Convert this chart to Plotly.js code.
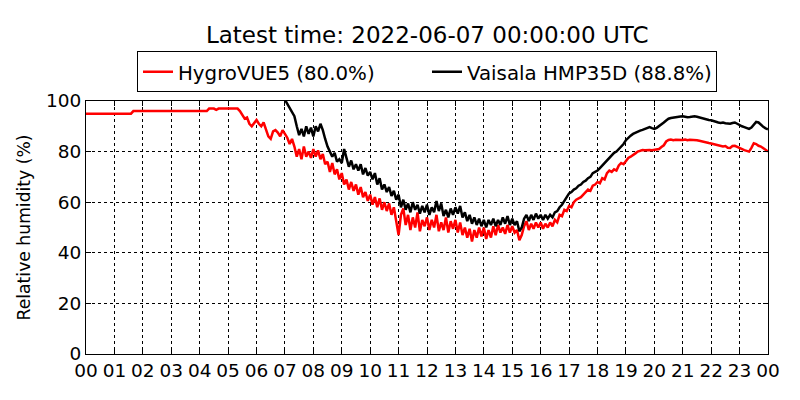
<!DOCTYPE html>
<html>
<head>
<meta charset="utf-8">
<script src="https://cdn.plot.ly/plotly-3.0.1.min.js"></script>
<style>
  html, body { margin: 0; padding: 0; background: #fff; }
  #graph { width: 800px; height: 400px; }
</style>
</head>
<body>
<div id="graph"></div>
<script>
// Данные: отсчёты каждые 5 минут, 2022-06-06 00:00 ... 2022-06-07 00:00
const GRAPH_ELEM_ID = "graph";
const DAY_START = "2022-06-06";
const DAY_END = "2022-06-07";
const STEP_MIN = 5;

// HygroVUE5, % (по часу на строку)
const hygroVue5 = [
  95, 95, 95, 95, 95, 95, 95, 95, 95, 95, 95, 95,
  95, 95, 95, 95, 95, 95, 95, 95, 96, 96, 96, 96,
  96, 96, 96, 96, 96, 96, 96, 96, 96, 96, 96, 96,
  96, 96, 96, 96, 96, 96, 96, 96, 96, 96, 96, 96,
  96, 96, 96, 96, 97, 97, 97, 96.5, 97, 97, 97, 97,
  97, 97, 97, 97, 97, 96, 94.5, 93, 93.5, 91, 90, 91.5,
  92.5, 91, 90, 91.5, 89, 86, 85, 88, 88.5, 87.5, 86, 88.5,
  87, 85.5, 83, 85, 82, 78, 81, 77, 82, 78, 80, 77.5,
  81, 78, 80.5, 77, 79, 75, 76, 72, 75.5, 71, 73, 69,
  71.5, 67, 69, 65, 68, 64.5, 67, 63, 66, 62, 64, 60.5,
  63, 59, 62, 58, 61.5, 57, 60, 56.5, 59.5, 55, 58, 53,
  47, 55, 57.5, 51, 55, 49, 54, 50, 56, 48.5, 53, 50.5,
  54, 49, 53, 50, 55, 48.5, 52, 49, 54, 48, 52.5, 49.5,
  53, 48, 52, 47, 50, 46, 49.5, 44.5, 49, 46, 50, 46.5,
  50, 45.5, 49, 46, 50.5, 47, 51, 48, 50, 47.5, 51, 48,
  50.5, 48, 49, 45, 47, 50.5, 52.5, 49, 51.5, 49.5, 52, 50,
  52, 49.5, 51.5, 50, 52, 50.5, 53, 52, 55, 54.5, 57, 56.5,
  58.5, 58, 60, 61, 61.5, 62, 63, 64, 65, 64.5, 66.5, 67,
  68, 67.5, 69.5, 69, 71.5, 72.5, 72, 73, 72.5, 74.5, 75.5, 75,
  76.5, 77.5, 78, 78.5, 79.3, 80, 80.3, 80.6, 80.5, 80.7, 80.6, 80.5,
  80.6, 80.8, 81, 81.8, 82.5, 84, 84.6, 84.8, 84.5, 84.7, 84.6, 84.5,
  84.6, 84.8, 84.5, 84.7, 84.6, 84.8, 84.5, 84.3, 84, 83.8, 83.5, 83.4,
  83.2, 82.9, 82.7, 82.5, 82.3, 82, 82.2, 81.5, 81.4, 82.2, 82.3, 81.8,
  81.5, 81, 80.6, 80.3, 80, 81.5, 83.3, 83, 82.3, 82, 81.3, 80.6,
  80
];

// Vaisala HMP35D, % (до 07:00 нет данных)
const vaisalaHmp35d = [
  null, null, null, null, null, null, null, null, null, null, null, null,
  null, null, null, null, null, null, null, null, null, null, null, null,
  null, null, null, null, null, null, null, null, null, null, null, null,
  null, null, null, null, null, null, null, null, null, null, null, null,
  null, null, null, null, null, null, null, null, null, null, null, null,
  null, null, null, null, null, null, null, null, null, null, null, null,
  null, null, null, null, null, null, null, null, null, null, null, null,
  100.5, 99, 97.5, 96, 94, 90, 86.5, 89, 86, 90, 87, 89.5,
  86, 90, 88, 91, 88.5, 85, 82, 80, 78, 79.5, 76, 77,
  75.5, 81, 77, 74, 76.5, 73, 75, 72.5, 75, 71, 73.5, 70.5,
  72, 69, 71.5, 67, 69.5, 65, 67, 64, 66, 62.5, 64.5, 61,
  63, 58, 61, 57, 59.5, 56, 60, 57, 59, 55.5, 58.5, 56,
  59, 55, 58, 56, 60.5, 56.5, 59.5, 54.5, 57, 54, 57.5, 55,
  58, 55.5, 58.5, 54, 56, 52.5, 55, 51.5, 54, 51, 53.5, 50.5,
  53, 50, 53, 51, 53.5, 50.5, 53, 51, 54, 51.5, 54.5, 51,
  53.5, 51, 52.5, 48.5, 50, 53.5, 55, 52.5, 55, 53, 55.5, 53.5,
  55, 53, 55, 53.5, 55, 54, 56, 56.5, 58, 59, 60.5, 62,
  63.5, 64, 65, 65.5, 66.5, 67, 68, 68.5, 69.5, 70, 71.5, 72,
  72.5, 73.5, 74.5, 75.5, 76.5, 77.5, 78.5, 79.5, 80, 81, 82, 83,
  84.5, 85.5, 86.3, 87, 87.5, 88, 88.3, 88.6, 89, 89.4, 89.7, 89.3,
  89, 89.4, 90, 90.8, 91.5, 92.3, 93, 93.3, 93.5, 93.6, 93.8, 93.9,
  94, 93.8, 93.6, 93.7, 93.9, 94, 93.8, 93.5, 93.3, 93, 92.8, 92.5,
  92.4, 92, 91.8, 91.5, 91.3, 91.5, 91.2, 91, 91, 91.3, 91.5, 91,
  90.4, 90, 89.7, 89.3, 89, 89.5, 90.5, 91.7, 91.5, 90.5, 89.8, 89.2,
  88.8
];

const seriesNames = ["HygroVUE5 (80.0%)", "Vaisala HMP35D (88.8%)"];
const seriesColors = ["#ff0000", "#000000"];
const titleText = "Latest time: 2022-06-07 00:00:00 UTC";
const yTickValues = [0, 20, 40, 60, 80, 100];

// Метки времени для оси X
function pad(n) {
  return n < 10 ? "0" + n : "" + n;
}

const times = hygroVue5.map((_, i) => {
  const minutes = i * STEP_MIN;
  if (minutes >= 24 * 60) return DAY_END + " 00:00";
  return DAY_START + " " + pad(Math.floor(minutes / 60)) + ":" + pad(minutes % 60);
});

const font = "DejaVu Sans, sans-serif";

const traces = [hygroVue5, vaisalaHmp35d].map((values, idx) => ({
  x: times,
  y: values,
  type: "scatter",
  mode: "lines",
  name: seriesNames[idx],
  line: { color: seriesColors[idx], width: 2.5 },
  connectgaps: false,
}));

const axisCommon = {
  showline: true,
  linecolor: "#000",
  linewidth: 1,
  mirror: "ticks",
  ticks: "inside",
  ticklen: 5,
  tickcolor: "#000",
  showgrid: true,
  gridcolor: "#000",
  griddash: "dot",
  gridwidth: 1,
  zeroline: false,
  tickfont: { family: font, size: 18.5, color: "#000" },
};

const layout = {
  width: 800,
  height: 400,
  margin: { l: 86, r: 32, t: 101, b: 46 },
  paper_bgcolor: "#fff",
  plot_bgcolor: "#fff",
  font: { family: font, color: "#000" },
  title: {
    text: titleText,
    font: { family: font, size: 23, color: "#000" },
    x: 0.534,
    xanchor: "center",
    y: 0.912,
    yanchor: "middle",
  },
  showlegend: true,
  legend: {
    orientation: "h",
    x: 0.5,
    xanchor: "center",
    y: 1.115,
    yanchor: "middle",
    bordercolor: "#000",
    borderwidth: 1,
    bgcolor: "#fff",
    entrywidth: 244,
    font: { family: font, size: 19.8, color: "#000" },
  },
  xaxis: Object.assign({}, axisCommon, {
    type: "date",
    range: [DAY_START + " 00:00", DAY_END + " 00:00"],
    dtick: 3600000,
    tick0: DAY_START + " 00:00",
    tickformat: "%H",
  }),
  yaxis: Object.assign({}, axisCommon, {
    range: [0, 100],
    tickvals: yTickValues,
    title: {
      text: "Relative humidity (%)",
      font: { family: font, size: 17.2, color: "#000" },
      standoff: 10,
    },
  }),
};

const config = { staticPlot: true, displayModeBar: false };

Plotly.newPlot(GRAPH_ELEM_ID, traces, layout, config);
</script>
</body>
</html>
